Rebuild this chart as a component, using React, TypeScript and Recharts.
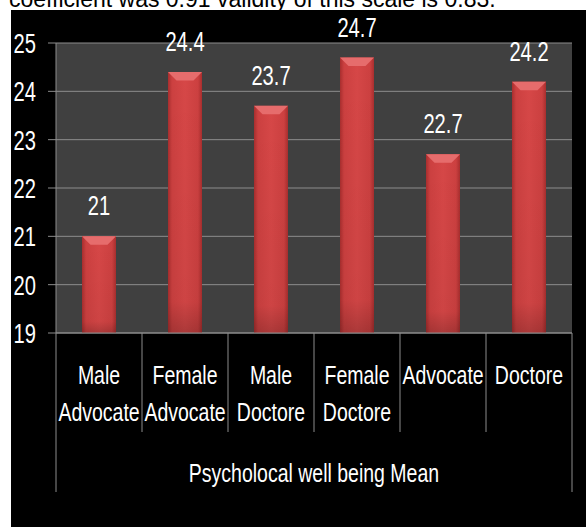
import { Bar, BarChart, CartesianGrid, LabelList, XAxis, YAxis } from "recharts";

const categories = [
  "Male Advocate",
  "Female Advocate",
  "Male Doctore",
  "Female Doctore",
  "Advocate",
  "Doctore",
];
const means = [21, 24.4, 23.7, 24.7, 22.7, 24.2];
const yTicks = [19, 20, 21, 22, 23, 24, 25];
const groupLabel = "Psycholocal well being Mean";
const caption = "coefficient was 0.91 validity of this scale is 0.83.";

const data = categories.map((name, i) => ({ name, mean: means[i] }));

const FONT = '"Liberation Sans", Arial, sans-serif';
const GRID = "#8c8c8c";

// no condensed font installed, so squeeze Liberation Sans horizontally
function NarrowText({
  x,
  y,
  size,
  squeeze,
  anchor = "middle",
  dy,
  children,
}: {
  x: number;
  y: number;
  size: number;
  squeeze: number;
  anchor?: "start" | "middle" | "end";
  dy?: string;
  children: any;
}) {
  return (
    <text
      transform={`translate(${x},${y}) scale(${squeeze},1)`}
      x={0}
      y={0}
      dy={dy}
      textAnchor={anchor}
      fill="#fff"
      fontSize={size}
      fontFamily={FONT}
    >
      {children}
    </text>
  );
}

function CategoryTick(props: any) {
  const { x, y, payload, index } = props;
  const half = payload?.offset ?? 43;
  const lines = String(payload.value).split(" ");
  const first = index === 0;
  const last = index === categories.length - 1;
  const groupCenter = x - half + categories.length * half;
  return (
    <g>
      <line x1={x - half} y1={y} x2={x - half} y2={y + (first ? 159 : 99)} stroke={GRID} />
      {last && <line x1={x + half} y1={y} x2={x + half} y2={y + 159} stroke={GRID} />}
      {lines.map((l, i) => (
        <NarrowText key={i} x={x} y={y + 51 + i * 37} size={25} squeeze={0.78}>
          {l}
        </NarrowText>
      ))}
      {first && (
        <NarrowText x={groupCenter} y={y + 149} size={25} squeeze={0.78}>
          {groupLabel}
        </NarrowText>
      )}
    </g>
  );
}

function ValueTick(props: any) {
  const { x, y, payload } = props;
  return (
    <NarrowText x={x} y={y} size={28} squeeze={0.72} anchor="end" dy="0.36em">
      {payload.value}
    </NarrowText>
  );
}

function BarValue(props: any) {
  const { x, y, width, value } = props;
  return (
    <NarrowText x={x + width / 2} y={y - 21} size={28} squeeze={0.72}>
      {value}
    </NarrowText>
  );
}

function BevelBar(props: any) {
  const { x, y, width, height } = props;
  if (!height || height <= 0) return null;
  const b = Math.min(9, width / 4);
  return (
    <g>
      <rect x={x} y={y} width={width} height={height} fill="url(#barRed)" />
      <rect x={x} y={y} width={width} height={height} fill="url(#barShade)" />
      <polygon
        points={`${x},${y} ${x + width},${y} ${x + width - b},${y + b} ${x + b},${y + b}`}
        fill="#e66c6c"
      />
    </g>
  );
}

export default function App() {
  return (
    <div
      style={{
        position: "fixed",
        left: 0,
        top: 0,
        width: 586,
        height: 527,
        background: "#fff",
        overflow: "hidden",
      }}
    >
      <div
        style={{
          position: "absolute",
          left: 9,
          top: -13,
          fontFamily: FONT,
          fontSize: 23,
          lineHeight: "24px",
          color: "#000",
          whiteSpace: "nowrap",
        }}
      >
        {caption}
      </div>
      <div style={{ position: "absolute", left: 11, top: 10, width: 575, height: 517, background: "#000" }}>
        <BarChart width={575} height={517} data={data} margin={{ top: 33, right: 14, left: 0, bottom: 0 }}>
          <defs>
            <linearGradient id="barRed" x1="0" y1="0" x2="1" y2="0">
              <stop offset="0%" stopColor="#a82e2e" />
              <stop offset="12%" stopColor="#cc4040" />
              <stop offset="50%" stopColor="#d64747" />
              <stop offset="88%" stopColor="#cc4040" />
              <stop offset="100%" stopColor="#a82e2e" />
            </linearGradient>
            <linearGradient id="barShade" x1="0" y1="0" x2="0" y2="1">
              <stop offset="0%" stopColor="#000" stopOpacity={0} />
              <stop offset="88%" stopColor="#000" stopOpacity={0.04} />
              <stop offset="100%" stopColor="#000" stopOpacity={0.2} />
            </linearGradient>
          </defs>
          <CartesianGrid fill="#404040" stroke={GRID} vertical={false} />
          <XAxis
            dataKey="name"
            height={194}
            interval={0}
            tickLine={false}
            tickSize={0}
            tickMargin={0}
            axisLine={{ stroke: GRID }}
            tick={<CategoryTick />}
          />
          <YAxis
            width={45}
            domain={[19, 25]}
            ticks={yTicks}
            interval={0}
            allowDataOverflow
            tickSize={8}
            tickMargin={12}
            tickLine={{ stroke: GRID }}
            axisLine={{ stroke: GRID }}
            tick={<ValueTick />}
          />
          <Bar dataKey="mean" barSize={34} shape={<BevelBar />} isAnimationActive={false}>
            <LabelList dataKey="mean" content={<BarValue />} />
          </Bar>
        </BarChart>
      </div>
    </div>
  );
}
